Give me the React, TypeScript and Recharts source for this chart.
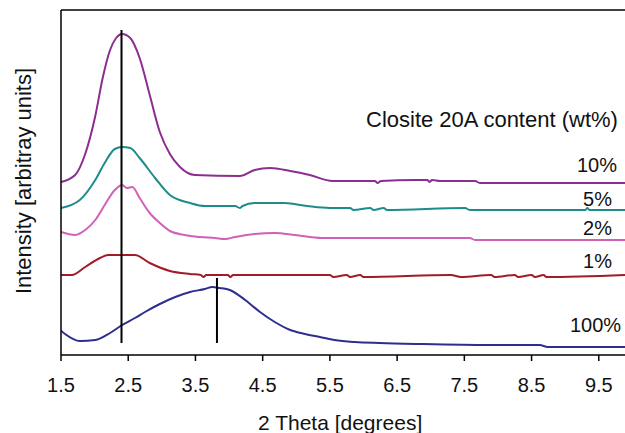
import React from 'react';
import { LineChart, Line, XAxis, YAxis, ReferenceLine } from 'recharts';

// 2 Theta (degrees) / intensity (arbitrary units, offset per curve)
const theta10 = [1.5, 1.71, 1.86, 2.01, 2.12, 2.23, 2.32, 2.41, 2.53, 2.67, 2.82, 2.97, 3.12, 3.27, 3.49, 4.16, 4.38, 4.61, 4.91, 5.2, 5.54, 6.17, 6.21, 6.26, 6.76, 6.95, 6.98, 7.02, 7.14, 7.66, 7.73, 9.89];
const int10 = [173, 180, 201, 239, 277, 305, 317, 321, 317, 297, 260, 223, 201, 188, 180, 179, 185, 187, 184, 180, 174, 174, 172, 174, 175, 175, 173, 175, 174, 174, 172, 172];

const theta5 = [1.5, 1.78, 2.01, 2.15, 2.3, 2.41, 2.53, 2.67, 2.9, 3.12, 3.42, 3.64, 4.09, 4.16, 4.2, 4.38, 4.83, 5.16, 5.5, 5.8, 5.85, 6.1, 6.15, 6.3, 6.35, 7.51, 7.58, 9.3, 9.33, 9.36, 9.89];
const int5 = [147, 155, 175, 192, 206, 208, 207, 197, 177, 160, 152, 149, 149, 147, 149, 152, 152, 149, 147, 147, 145, 147, 145, 147, 145, 147, 145, 145, 147, 145, 145];

const theta2 = [1.5, 1.71, 1.86, 2.01, 2.15, 2.3, 2.41, 2.48, 2.56, 2.67, 2.82, 2.97, 3.12, 3.34, 3.57, 3.79, 3.94, 4.09, 4.38, 4.68, 4.98, 5.38, 7.58, 7.66, 9.89];
const int2 = [123, 120, 125, 135, 150, 165, 170, 167, 168, 157, 142, 132, 124, 120, 118, 117, 116, 118, 121, 122, 120, 117, 117, 115, 115];

const theta1 = [1.5, 1.66, 1.86, 2.08, 2.2, 2.6, 2.82, 3.12, 3.42, 3.58, 3.62, 3.66, 3.98, 4.02, 4.06, 5.5, 5.55, 5.75, 5.8, 5.95, 6.0, 7.3, 7.45, 7.9, 7.95, 8.25, 8.3, 8.5, 8.55, 8.68, 8.72, 9.89];
const int1 = [80, 80, 88, 97, 100, 100, 92, 84, 81, 80, 78, 80, 80, 78, 80, 80, 78, 80, 78, 80, 78, 80, 78, 80, 78, 80, 78, 80, 78, 80, 78, 80];

const theta100 = [1.47, 1.56, 1.78, 2.01, 2.23, 2.41, 2.6, 2.75, 2.97, 3.2, 3.42, 3.64, 3.75, 3.86, 4.01, 4.24, 4.46, 4.68, 4.91, 5.13, 5.35, 5.57, 5.87, 6.24, 6.84, 7.88, 8.62, 8.74, 9.89];
const int100 = [26, 21, 14, 15, 22, 30, 37, 43, 51, 58, 63, 66, 68, 67, 65, 55, 43, 33, 25, 21, 18, 15, 13, 12, 11, 10, 10, 8, 8];

const xTicks = [1.5, 2.5, 3.5, 4.5, 5.5, 6.5, 7.5, 8.5, 9.5];

const toRows = (xs: number[], ys: number[]) => xs.map((t, i) => ({ t, v: ys[i] }));

const series = [
  { name: '10%', data: toRows(theta10, int10), color: '#8B2E8F' },
  { name: '5%', data: toRows(theta5, int5), color: '#1E8C8C' },
  { name: '2%', data: toRows(theta2, int2), color: '#D060B8' },
  { name: '1%', data: toRows(theta1, int1), color: '#A01C28' },
  { name: '100%', data: toRows(theta100, int100), color: '#2E2E90' },
];

const font = '"Liberation Sans", Arial, sans-serif';

const textStyle = (left: number, top: number, size = 20): React.CSSProperties => ({
  position: 'absolute',
  left,
  top,
  fontFamily: font,
  fontSize: size,
  color: '#111',
  whiteSpace: 'nowrap',
  lineHeight: 1,
});

export default function App() {
  return (
    <div style={{ position: 'absolute', left: 0, top: 0, width: 625, height: 433, overflow: 'hidden', background: '#fff' }}>
      <LineChart width={625} height={433} margin={{ top: 10, right: 0, bottom: 0, left: 0 }}>
        <XAxis
          type="number"
          dataKey="t"
          domain={[1.5, 9.89]}
          ticks={xTicks}
          allowDataOverflow
          height={78}
          axisLine={{ stroke: '#000', strokeWidth: 1.5 }}
          tickLine={{ stroke: '#000', strokeWidth: 1.5 }}
          tickSize={6}
          tickMargin={17}
          tick={{ fill: '#111', fontSize: 20, fontFamily: font }}
          tickFormatter={(v: number) => v.toFixed(1)}
        />
        <YAxis
          type="number"
          domain={[0, 345]}
          allowDataOverflow
          width={61}
          tick={false}
          tickLine={false}
          axisLine={{ stroke: '#000', strokeWidth: 1.5 }}
        />
        <ReferenceLine y={345} stroke="#000" strokeWidth={1.5} />
        {series.map((s) => (
          <Line
            key={s.name}
            data={s.data}
            dataKey="v"
            type="monotone"
            stroke={s.color}
            strokeWidth={2}
            dot={false}
            isAnimationActive={false}
          />
        ))}
        <ReferenceLine segment={[{ x: 2.4, y: 12 }, { x: 2.4, y: 325 }]} stroke="#000" strokeWidth={2} />
        <ReferenceLine segment={[{ x: 3.82, y: 12 }, { x: 3.82, y: 77 }]} stroke="#000" strokeWidth={2} />
      </LineChart>

      <div style={textStyle(366, 109, 22)}>Closite 20A content (wt%)</div>
      <div style={{ ...textStyle(0, 155), left: 'auto', right: 8 }}>10%</div>
      <div style={{ ...textStyle(0, 189), left: 'auto', right: 13 }}>5%</div>
      <div style={{ ...textStyle(0, 218), left: 'auto', right: 13 }}>2%</div>
      <div style={{ ...textStyle(0, 251), left: 'auto', right: 13 }}>1%</div>
      <div style={textStyle(570, 315)}>100%</div>

      <div style={{ ...textStyle(258, 412, 21) }}>2 Theta [degrees]</div>
      <div
        style={{
          ...textStyle(24, 181, 22),
          transform: 'translate(-50%, -50%) rotate(-90deg)',
        }}
      >
        Intensity [arbitray units]
      </div>
    </div>
  );
}
